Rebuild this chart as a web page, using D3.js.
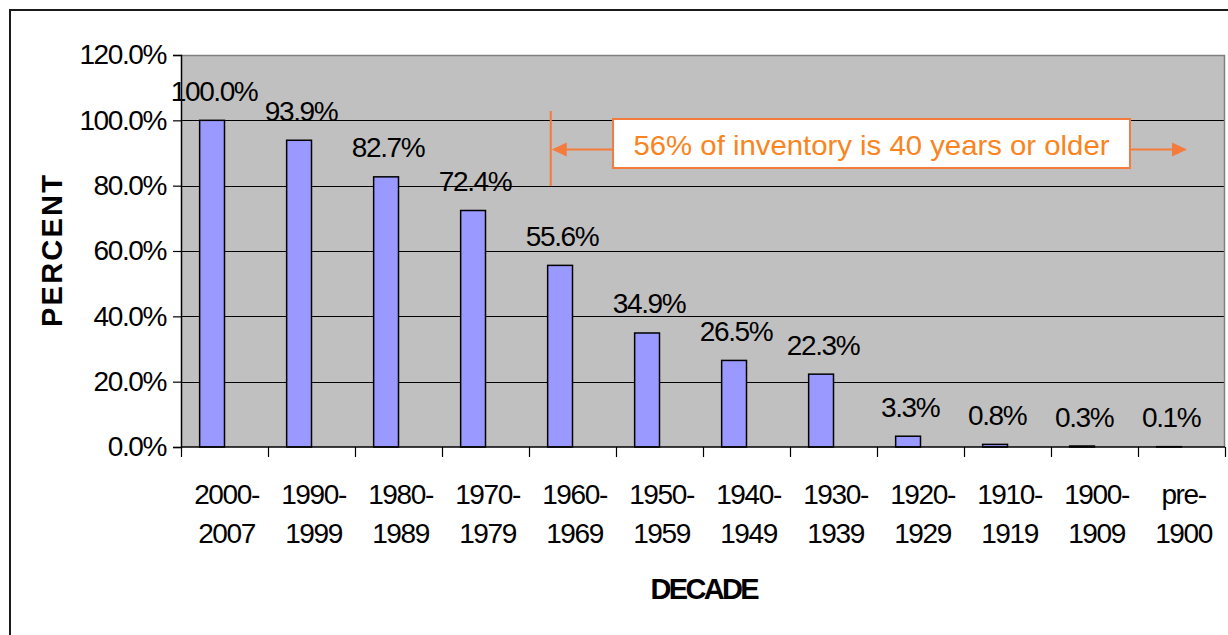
<!DOCTYPE html>
<html>
<head>
<meta charset="utf-8">
<script src="https://cdn.jsdelivr.net/npm/d3@7"></script>
<style>
  html, body { margin: 0; padding: 0; background: #fff; }
  svg { display: block; }
  text { font-family: "Liberation Sans", Arial, sans-serif; }
</style>
</head>
<body>
<script>
// Housing inventory by decade built: cumulative share of units
const categories = ["2000-2007", "1990-1999", "1980-1989", "1970-1979", "1960-1969",
                    "1950-1959", "1940-1949", "1930-1939", "1920-1929", "1910-1919",
                    "1900-1909", "pre-1900"];
const percents = [100.0, 93.9, 82.7, 72.4, 55.6, 34.9, 26.5, 22.3, 3.3, 0.8, 0.3, 0.1];
const yTicks = [0, 20, 40, 60, 80, 100, 120];
const yTitle = "PERCENT";
const xTitle = "DECADE";
const note = "56% of inventory is 40 years or older";

const W = 1228, H = 635;
const plot = { left: 181, right: 1225, top: 55, bottom: 447 };
const orange = "#f47b3b";

const svg = d3.select("body").append("svg")
  .attr("width", W).attr("height", H);

// outer chart frame
svg.append("rect")
  .attr("x", 10).attr("y", 10)
  .attr("width", W + 20).attr("height", H + 20)
  .attr("fill", "#fff").attr("stroke", "#1a1a1a").attr("stroke-width", 2);

const x = d3.scaleBand().domain(categories).range([plot.left, plot.right]);
const y = d3.scaleLinear().domain([0, 120]).range([plot.bottom, plot.top]);

// plot area
svg.append("rect")
  .attr("x", plot.left).attr("y", plot.top)
  .attr("width", plot.right - plot.left).attr("height", plot.bottom - plot.top)
  .attr("fill", "#c0c0c0");

// horizontal gridlines
svg.append("g").selectAll("line")
  .data(yTicks.filter(t => t > 0 && t < 120))
  .join("line")
  .attr("x1", plot.left).attr("x2", plot.right)
  .attr("y1", d => Math.round(y(d)) + 0.5).attr("y2", d => Math.round(y(d)) + 0.5)
  .attr("stroke", "#000").attr("stroke-width", 1);

// grey top / right edge of the plot area
svg.append("path")
  .attr("d", `M${plot.left},${plot.top + 0.5}H${plot.right - 0.5}V${plot.bottom}`)
  .attr("fill", "none").attr("stroke", "#808080").attr("stroke-width", 1.5);

// bars: each one fills the left slot of its category group (gap width 150%)
const slot = x.bandwidth() / 3.5;
svg.append("g").selectAll("rect")
  .data(categories.map((c, i) => ({ c, v: percents[i] })))
  .join("rect")
  .attr("x", d => x(d.c) + slot * 0.75)
  .attr("y", d => y(d.v))
  .attr("width", slot)
  .attr("height", d => y(0) - y(d.v))
  .attr("fill", "#9999ff")
  .attr("stroke", "#000").attr("stroke-width", 1.5);

// value labels
const pct = d3.format(".1%");
svg.append("g").selectAll("text")
  .data(categories.map((c, i) => ({ c, v: percents[i] })))
  .join("text")
  .attr("x", d => x(d.c) + slot * 1.25 + 2)
  .attr("y", d => y(d.v) - 19.5)
  .attr("text-anchor", "middle")
  .attr("font-size", 28)
  .attr("letter-spacing", -1.4)
  .attr("fill", "#000")
  .text(d => pct(d.v / 100));

// y axis
const yAxis = svg.append("g")
  .attr("transform", `translate(${plot.left},0)`)
  .call(d3.axisLeft(y).tickValues(yTicks).tickFormat(d => pct(d / 100))
    .tickSize(8).tickPadding(7));
yAxis.select(".domain").attr("stroke", "#000").attr("stroke-width", 1.5);
yAxis.selectAll(".tick line").attr("stroke", "#000").attr("stroke-width", 1.2);
yAxis.selectAll(".tick text")
  .attr("font-size", 28).attr("letter-spacing", -1.4)
  .attr("font-family", "Liberation Sans, Arial, sans-serif")
  .attr("fill", "#000");

// x axis: ticks sit on the category boundaries
const bounds = categories.map(c => x(c)).concat([plot.right]);
svg.append("line")
  .attr("x1", plot.left).attr("x2", plot.right)
  .attr("y1", plot.bottom).attr("y2", plot.bottom)
  .attr("stroke", "#000").attr("stroke-width", 1.5);
svg.append("g").selectAll("line")
  .data(bounds)
  .join("line")
  .attr("x1", d => Math.round(d) + 0.5).attr("x2", d => Math.round(d) + 0.5)
  .attr("y1", plot.bottom).attr("y2", plot.bottom + 10)
  .attr("stroke", "#000").attr("stroke-width", 1.2);

// category labels on two lines, split after the hyphen
const catLabels = svg.append("g").selectAll("text")
  .data(categories)
  .join("text")
  .attr("text-anchor", "middle")
  .attr("font-size", 28)
  .attr("letter-spacing", -1.4)
  .attr("fill", "#000");
catLabels.each(function (c) {
  const cut = c.indexOf("-") + 1;
  const t = d3.select(this);
  const cx = x(c) + x.bandwidth() / 2 + 2;
  t.append("tspan").attr("x", cx).attr("y", 504).text(c.slice(0, cut));
  t.append("tspan").attr("x", cx).attr("y", 543).text(c.slice(cut));
});

// axis titles
svg.append("text")
  .attr("transform", `translate(62,251) rotate(-90)`)
  .attr("text-anchor", "middle")
  .attr("font-size", 29).attr("font-weight", "bold")
  .attr("textLength", 152).attr("lengthAdjust", "spacing")
  .text(yTitle);
svg.append("text")
  .attr("x", 705).attr("y", 599)
  .attr("text-anchor", "middle")
  .attr("font-size", 29).attr("font-weight", "bold")
  .attr("textLength", 109).attr("lengthAdjust", "spacing")
  .text(xTitle);

// annotation: bracket from the 1960s onward
const markX = x("1960-1969") + x.bandwidth() * 0.25;
const arrowY = 149.5;
const box = { x0: 613, x1: 1130, y0: 119, y1: 168 };
const tipRight = 1187;

const ann = svg.append("g");
ann.append("line")
  .attr("x1", markX).attr("x2", markX)
  .attr("y1", 111).attr("y2", 186)
  .attr("stroke", orange).attr("stroke-width", 2);
ann.append("line")
  .attr("x1", markX + 12).attr("x2", box.x0)
  .attr("y1", arrowY).attr("y2", arrowY)
  .attr("stroke", orange).attr("stroke-width", 2);
ann.append("line")
  .attr("x1", box.x1).attr("x2", tipRight - 12)
  .attr("y1", arrowY).attr("y2", arrowY)
  .attr("stroke", orange).attr("stroke-width", 2);
ann.append("path")
  .attr("d", `M${markX + 1},${arrowY}L${markX + 16},${arrowY - 7}L${markX + 16},${arrowY + 7}Z`)
  .attr("fill", orange);
ann.append("path")
  .attr("d", `M${tipRight},${arrowY}L${tipRight - 15},${arrowY - 7}L${tipRight - 15},${arrowY + 7}Z`)
  .attr("fill", orange);
ann.append("rect")
  .attr("x", box.x0).attr("y", box.y0)
  .attr("width", box.x1 - box.x0).attr("height", box.y1 - box.y0)
  .attr("fill", "#fff").attr("stroke", orange).attr("stroke-width", 2);
ann.append("text")
  .attr("x", (box.x0 + box.x1) / 2).attr("y", 155)
  .attr("text-anchor", "middle")
  .attr("font-size", 28.5)
  .attr("textLength", 476).attr("lengthAdjust", "spacingAndGlyphs")
  .attr("fill", "#f98420")
  .text(note);
</script>
</body>
</html>
